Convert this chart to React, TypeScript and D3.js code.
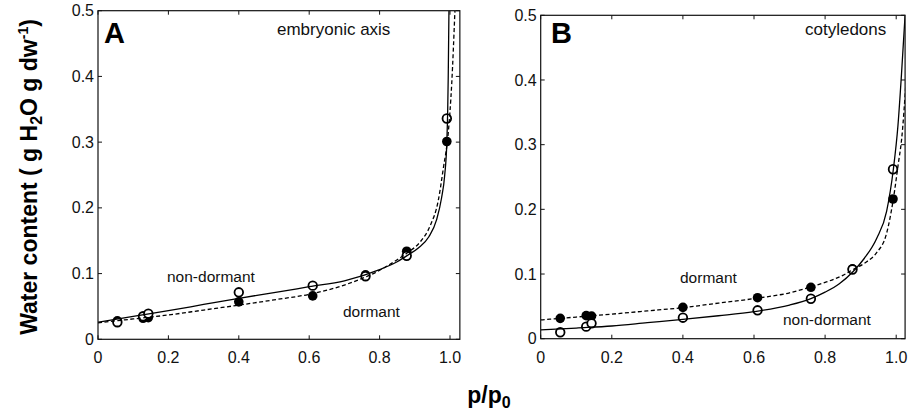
import React from "react";
import * as d3 from "d3";

// Relative vapour pressure of the sorption points
const rh = [0.055, 0.128, 0.143, 0.4, 0.61, 0.76, 0.877, 0.991];

// Panel A – embryonic axis
const axisNonDormant = [0.026, 0.035, 0.039, 0.0715, 0.0816, 0.096, 0.127, 0.336];
const axisDormant = [0.028, 0.032, 0.033, 0.057, 0.066, 0.098, 0.134, 0.301];
// Panel B – cotyledons
const cotNonDormant = [0.0099, 0.0186, 0.0238, 0.0325, 0.0439, 0.0618, 0.107, 0.262];
const cotDormant = [0.0315, 0.0356, 0.035, 0.0485, 0.0634, 0.0795, 0.108, 0.216];

// Fitted isotherm curves: [p/p0, water content]
const axisNonDormantFit: [number, number][] = [
  [0, 0.026], [0.1, 0.035], [0.2, 0.0435], [0.3, 0.053], [0.4, 0.0624], [0.5, 0.071],
  [0.6, 0.08], [0.7, 0.089], [0.8, 0.106], [0.85, 0.118], [0.88, 0.128], [0.91, 0.139],
  [0.94, 0.156], [0.962, 0.182], [0.976, 0.215], [0.985, 0.25], [0.991, 0.3],
  [0.9935, 0.35], [0.995, 0.4], [0.997, 0.5],
];
const axisDormantFit: [number, number][] = [
  [0, 0.025], [0.1, 0.031], [0.2, 0.037], [0.3, 0.0445], [0.4, 0.052], [0.5, 0.06],
  [0.6, 0.0685], [0.7, 0.0826], [0.8, 0.105], [0.85, 0.121], [0.88, 0.132], [0.915, 0.148],
  [0.943, 0.172], [0.967, 0.212], [0.981, 0.26], [0.995, 0.314], [1.005, 0.39], [1.014, 0.5],
];
const cotNonDormantFit: [number, number][] = [
  [0, 0.0135], [0.1, 0.0165], [0.2, 0.0196], [0.3, 0.0248], [0.4, 0.03], [0.5, 0.0355],
  [0.6, 0.0418], [0.7, 0.052], [0.76, 0.062], [0.8, 0.072], [0.84, 0.085], [0.879, 0.104],
  [0.91, 0.124], [0.945, 0.155], [0.973, 0.197], [0.992, 0.262], [1.005, 0.33],
  [1.015, 0.41], [1.025, 0.5],
];
const cotDormantFit: [number, number][] = [
  [0, 0.029], [0.1, 0.0335], [0.2, 0.038], [0.3, 0.043], [0.4, 0.048], [0.5, 0.055],
  [0.6, 0.062], [0.7, 0.071], [0.76, 0.08], [0.8, 0.087], [0.85, 0.098], [0.879, 0.107],
  [0.917, 0.119], [0.945, 0.133], [0.973, 0.163], [0.992, 0.216], [1.006, 0.271],
  [1.015, 0.307], [1.028, 0.4],
];

const xTicks = [0, 0.2, 0.4, 0.6, 0.8, 1.0];
const xTickLabels = ["0", "0.2", "0.4", "0.6", "0.8", "1.0"];
const yTicks = [0, 0.1, 0.2, 0.3, 0.4, 0.5];
const yTickLabels = ["0", "0.1", "0.2", "0.3", "0.4", "0.5"];

const FONT = "'Liberation Sans', Arial, Helvetica, sans-serif";

type Label = { text: string; x: number; y: number };

type PanelProps = {
  id: string;
  x0: number; // pixel of p/p0 = 0
  x1: number; // pixel of p/p0 = 1
  xMax: number;
  y0: number; // pixel of 0
  y5: number; // pixel of 0.5
  letter: Label;
  title: Label;
  dormantLabel: Label;
  nonDormantLabel: Label;
  open: number[];
  filled: number[];
  openFit: [number, number][];
  filledFit: [number, number][];
};

function Panel(p: PanelProps) {
  const x = d3.scaleLinear().domain([0, 1]).range([p.x0, p.x1]);
  const y = d3.scaleLinear().domain([0, 0.5]).range([p.y0, p.y5]);
  const left = x(0);
  const right = x(p.xMax);
  const top = y(0.5);
  const bottom = y(0);
  const line = d3
    .line<[number, number]>()
    .x((d) => x(d[0]))
    .y((d) => y(d[1]))
    .curve(d3.curveMonotoneX);
  const tl = 4;
  return (
    <g>
      <defs>
        <clipPath id={`clip-${p.id}`}>
          <rect x={left} y={top} width={right - left} height={bottom - top} />
        </clipPath>
      </defs>
      {xTicks.map((t, i) => (
        <g key={`xt${i}`}>
          <line x1={x(t)} x2={x(t)} y1={bottom} y2={bottom - tl} stroke="#111" strokeWidth={1} />
          <line x1={x(t)} x2={x(t)} y1={top} y2={top + tl} stroke="#111" strokeWidth={1} />
          <text x={x(t)} y={bottom + 24} textAnchor="middle" fontFamily={FONT} fontSize={16} fill="#111">
            {xTickLabels[i]}
          </text>
        </g>
      ))}
      {yTicks.map((t, i) => (
        <g key={`yt${i}`}>
          <line x1={left} x2={left + tl} y1={y(t)} y2={y(t)} stroke="#111" strokeWidth={1} />
          <line x1={right} x2={right - tl} y1={y(t)} y2={y(t)} stroke="#111" strokeWidth={1} />
          <text x={left - 4} y={y(t)} dy="0.35em" textAnchor="end" fontFamily={FONT} fontSize={16} fill="#111">
            {yTickLabels[i]}
          </text>
        </g>
      ))}
      <g clipPath={`url(#clip-${p.id})`}>
        {p.filled.map((v, i) => (
          <circle key={`f${i}`} cx={x(rh[i])} cy={y(v)} r={4.8} fill="#000" />
        ))}
        {p.open.map((v, i) => (
          <circle key={`o${i}`} cx={x(rh[i])} cy={y(v)} r={4.3} fill="#fff" stroke="#000" strokeWidth={1.8} />
        ))}
        <path d={line(p.openFit) || ""} fill="none" stroke="#000" strokeWidth={1.3} />
        <path d={line(p.filledFit) || ""} fill="none" stroke="#000" strokeWidth={1.3} strokeDasharray="4 2.5" />
      </g>
      <rect x={left} y={top} width={right - left} height={bottom - top} fill="none" stroke="#111" strokeWidth={1.2} />
      <text x={p.letter.x} y={p.letter.y} fontFamily={FONT} fontWeight="bold" fontSize={29} fill="#000">
        {p.letter.text}
      </text>
      <text x={p.title.x} y={p.title.y} fontFamily={FONT} fontSize={17} fill="#111">
        {p.title.text}
      </text>
      {[p.dormantLabel, p.nonDormantLabel].map((l, i) => (
        <text key={`l${i}`} x={l.x} y={l.y} fontFamily={FONT} fontSize={15.5} fill="#111">
          {l.text}
        </text>
      ))}
    </g>
  );
}

export default function App() {
  return (
    <svg
      width={909}
      height={414}
      viewBox="0 0 909 414"
      style={{ position: "absolute", left: 0, top: 0, background: "#fff" }}
    >
      <rect x={0} y={0} width={909} height={414} fill="#fff" />
      <Panel
        id="A"
        x0={98}
        x1={450}
        xMax={1.028}
        y0={339.3}
        y5={10.7}
        letter={{ text: "A", x: 104, y: 43 }}
        title={{ text: "embryonic axis", x: 277, y: 35 }}
        nonDormantLabel={{ text: "non-dormant", x: 167, y: 282 }}
        dormantLabel={{ text: "dormant", x: 343, y: 317 }}
        open={axisNonDormant}
        filled={axisDormant}
        openFit={axisNonDormantFit}
        filledFit={axisDormantFit}
      />
      <Panel
        id="B"
        x0={540.7}
        x1={896.2}
        xMax={1.025}
        y0={338.7}
        y5={15.3}
        letter={{ text: "B", x: 551, y: 43 }}
        title={{ text: "cotyledons", x: 805, y: 35 }}
        nonDormantLabel={{ text: "non-dormant", x: 783, y: 325 }}
        dormantLabel={{ text: "dormant", x: 680, y: 283 }}
        open={cotNonDormant}
        filled={cotDormant}
        openFit={cotNonDormantFit}
        filledFit={cotDormantFit}
      />
      <text
        transform="translate(37,177) rotate(-90)"
        textAnchor="middle"
        fontFamily={FONT}
        fontWeight="bold"
        fontSize={23}
        fill="#000"
      >
        Water content ( g H
        <tspan fontSize={16} dy={5}>2</tspan>
        <tspan dy={-5}>O g dw</tspan>
        <tspan fontSize={14} dy={-9}>-1</tspan>
        <tspan dy={9}>)</tspan>
      </text>
      <text x={489} y={403} textAnchor="middle" fontFamily={FONT} fontWeight="bold" fontSize={23} fill="#000">
        p/p
        <tspan fontSize={16} dy={5}>0</tspan>
      </text>
    </svg>
  );
}
